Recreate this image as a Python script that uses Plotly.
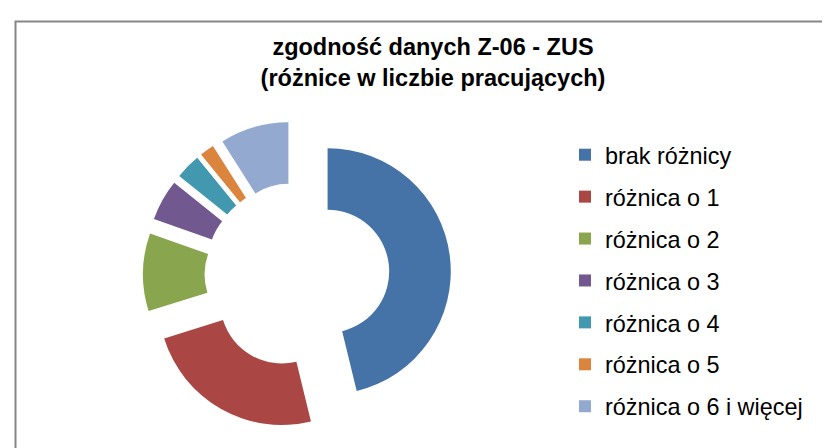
import plotly.graph_objects as go

categories = ["brak różnicy", "różnica o 1", "różnica o 2", "różnica o 3",
              "różnica o 4", "różnica o 5", "różnica o 6 i więcej"]
shares = [46.2, 24.0, 10.2, 5.4, 3.3, 1.9, 9.0]
colors = ["#4572A7", "#AA4643", "#89A54E", "#71588F", "#4198AF", "#DB843D", "#93A9CF"]

W, H = 830, 448
FONT = "Liberation Sans, Arial, sans-serif"

fig = go.Figure()
fig.add_trace(go.Pie(
    labels=categories, values=shares, sort=False, direction="clockwise",
    rotation=0, hole=0.5, pull=[0.25] * len(shares),
    marker=dict(colors=colors, line=dict(width=0)),
    textinfo="none", showlegend=False, hoverinfo="label+percent",
    domain=dict(x=[135 / W, 443 / W], y=[1 - 421 / H, 1 - 113 / H]),
))

# legend entries (one group each, so the spacing can follow the reference)
for i, (name, c) in enumerate(zip(categories, colors)):
    fig.add_trace(go.Scatter(
        x=[None], y=[None], mode="markers", name=name, legendgroup=f"g{i}",
        marker=dict(symbol="square", size=12, color=c, line=dict(width=0)),
        showlegend=True, hoverinfo="skip",
    ))

fig.update_layout(
    width=W, height=H,
    margin=dict(l=0, r=0, t=0, b=0),
    paper_bgcolor="white", plot_bgcolor="white",
    font=dict(family=FONT, color="black"),
    title=dict(
        text="<b>zgodność danych Z-06 - ZUS<br>(różnice w liczbie pracujących)</b>",
        font=dict(family=FONT, size=23.5, color="black"),
        x=425 / W, xanchor="center", y=1 - 47 / H, yanchor="top",
    ),
    xaxis=dict(visible=False), yaxis=dict(visible=False),
    legend=dict(
        x=557 / W, xanchor="left", y=1 - 125 / H, yanchor="top",
        font=dict(family=FONT, size=23.4, color="black"),
        tracegroupgap=8.5, bgcolor="rgba(0,0,0,0)", borderwidth=0,
    ),
    shapes=[dict(type="rect", xref="paper", yref="paper",
                 x0=7.5 / W, x1=1.05, y0=-0.05, y1=1 - 13.5 / H,
                 line=dict(color="#868686", width=2), fillcolor="rgba(0,0,0,0)")],
)

fig.write_html("out.html")
